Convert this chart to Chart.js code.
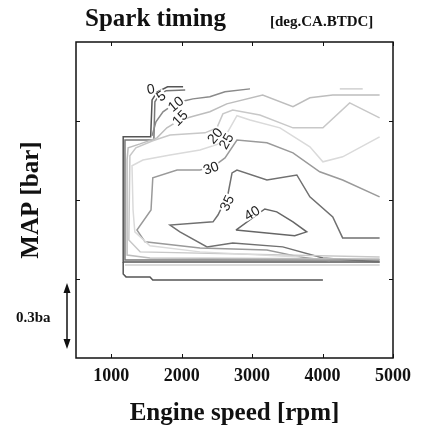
<!DOCTYPE html>
<html>
<head>
<meta charset="utf-8">
<script src="https://cdn.jsdelivr.net/npm/chart.js@4.4.0/dist/chart.umd.min.js"></script>
<style>
  html, body { margin: 0; padding: 0; background: #fff; }
</style>
</head>
<body>
<canvas id="sparkMap" width="423" height="432"></canvas>
<script>
// Spark advance map: iso-lines of ignition advance over engine speed / MAP
var speedTicks = [1000, 2000, 3000, 4000, 5000];
var mapTicks = [0.3, 0.6, 0.9];

// iso-advance lines, rpm and MAP [bar]
var adv0Rpm = [2020, 1800, 1650, 1580, 1560, 1170, 1170, 4810];
var adv0Map = [1.03, 1.03, 1.01, 0.98, 0.84, 0.84, 0.365, 0.365];

var adv5Rpm = [2050, 1780, 1680, 1620, 1605, 1195, 1195, 4810];
var adv5Map = [1.018, 1.015, 0.999, 0.973, 0.828, 0.828, 0.372, 0.372];

var adv10Rpm = [1580, 1635, 1735, 1860, 2045, 2160, 2400, 2615, 2970];
var adv10Map = [0.844, 0.897, 0.935, 0.958, 0.977, 0.984, 0.992, 1.011, 1.022];

var adv10bRpm = [4245, 4570];
var adv10bMap = [1.022, 1.022];

var adv15Rpm = [4810, 4145, 3820, 3580, 3150, 2640, 2400, 2190, 1975, 1790, 1650, 1410, 1240, 1225, 1225, 1550, 4810];
var adv15Map = [0.999, 0.999, 0.988, 0.954, 0.999, 0.965, 0.935, 0.920, 0.904, 0.874, 0.836, 0.813, 0.798, 0.752, 0.391, 0.380, 0.376];

var adv20Rpm = [4810, 4385, 4005, 3580, 3110, 2725, 2585, 2500, 2330, 1835, 1590, 1350, 1265, 1250, 1410, 4810];
var adv20Map = [0.912, 0.969, 0.874, 0.874, 0.923, 0.942, 0.927, 0.874, 0.855, 0.847, 0.825, 0.798, 0.768, 0.448, 0.403, 0.384];

var adv25Rpm = [4810, 4285, 4005, 3820, 3395, 2970, 2785, 2655, 2570, 2260, 1835, 1450, 1295, 1310, 1335, 1550, 2260, 3675];
var adv25Map = [0.840, 0.764, 0.745, 0.802, 0.874, 0.904, 0.920, 0.859, 0.817, 0.790, 0.771, 0.752, 0.730, 0.562, 0.479, 0.426, 0.403, 0.384];

var adv30Rpm = [4810, 4285, 3960, 3580, 3210, 2785, 2615, 2445, 2260, 1935, 1590, 1565, 1365, 1480, 2260, 3210, 3675, 4105];
var adv30Map = [0.612, 0.676, 0.707, 0.779, 0.817, 0.828, 0.760, 0.726, 0.714, 0.714, 0.684, 0.562, 0.486, 0.441, 0.418, 0.410, 0.384, 0.369];

var adv35Rpm = [4810, 4285, 4145, 3820, 3635, 3210, 2785, 2715, 2655, 2515, 2445, 1835, 1975, 2360, 2725, 3435, 4005, 4810];
var adv35Map = [0.456, 0.456, 0.536, 0.612, 0.695, 0.676, 0.714, 0.703, 0.619, 0.543, 0.517, 0.505, 0.479, 0.422, 0.437, 0.422, 0.380, 0.365];

var adv40Rpm = [2770, 3180, 3350, 3580, 3775, 3605, 2770];
var adv40Map = [0.486, 0.566, 0.555, 0.517, 0.479, 0.464, 0.486];

// low-load limit and idle line
var lowLoadRpm = [1195, 4810];
var lowLoadMap = [0.353, 0.353];
var idleRpm = [1170, 1170, 1210, 1550, 1590, 4005];
var idleMap = [0.365, 0.319, 0.308, 0.308, 0.296, 0.296];

// inline labels on the iso-lines
var labelText = ['0', '5', '10', '15', '20', '25', '30', '35', '40'];
var labelRpm = [1560, 1705, 1915, 1975, 2470, 2630, 2415, 2640, 2995];
var labelMap = [1.022, 0.996, 0.965, 0.912, 0.844, 0.824, 0.722, 0.589, 0.551];
var labelAngle = [-10, -35, -40, -45, -50, -60, -20, -65, -30];

function pts(rpm, map) {
  return rpm.map(function (r, i) { return { x: r, y: map[i] }; });
}

function line(rpm, map, color) {
  return {
    data: pts(rpm, map),
    showLine: true,
    borderColor: color,
    borderWidth: 1.5,
    pointRadius: 0,
    tension: 0,
    fill: false
  };
}

var datasets = [
  line(lowLoadRpm, lowLoadMap, '#cfcfcf'),
  line(adv25Rpm, adv25Map, '#dadada'),
  line(adv20Rpm, adv20Map, '#c8c8c8'),
  line(adv15Rpm, adv15Map, '#bdbdbd'),
  line(adv10bRpm, adv10bMap, '#d0d0d0'),
  line(adv30Rpm, adv30Map, '#9a9a9a'),
  line(adv10Rpm, adv10Map, '#8a8a8a'),
  line(adv5Rpm, adv5Map, '#777'),
  line(adv35Rpm, adv35Map, '#707070'),
  line(adv40Rpm, adv40Map, '#666'),
  line(adv0Rpm, adv0Map, '#555'),
  line(idleRpm, idleMap, '#555')
];

var serif = 'Liberation Serif';

// frame, inward ticks, contour labels and header texts
var decorations = {
  id: 'decorations',
  afterDraw: function (chart) {
    var ctx = chart.ctx;
    var a = chart.chartArea;
    var xs = chart.scales.x;
    var ys = chart.scales.y;

    // contour labels
    ctx.save();
    ctx.font = '14px "Liberation Sans"';
    ctx.textAlign = 'center';
    ctx.textBaseline = 'middle';
    labelText.forEach(function (t, i) {
      var px = xs.getPixelForValue(labelRpm[i]);
      var py = ys.getPixelForValue(labelMap[i]);
      var w = ctx.measureText(t).width;
      ctx.save();
      ctx.translate(px, py);
      ctx.rotate(labelAngle[i] * Math.PI / 180);
      ctx.fillStyle = '#fff';
      ctx.fillRect(-w / 2 - 1, -5, w + 2, 10);
      ctx.fillStyle = '#222';
      ctx.fillText(t, 0, 1);
      ctx.restore();
    });
    ctx.restore();

    // plot frame
    ctx.save();
    ctx.strokeStyle = '#111';
    ctx.lineWidth = 1.5;
    ctx.strokeRect(a.left, a.top, a.right - a.left, a.bottom - a.top);
    ctx.lineWidth = 1;
    ctx.beginPath();
    speedTicks.forEach(function (v) {
      var px = Math.round(xs.getPixelForValue(v)) + 0.5;
      ctx.moveTo(px, a.bottom); ctx.lineTo(px, a.bottom - 4);
      ctx.moveTo(px, a.top); ctx.lineTo(px, a.top + 4);
    });
    mapTicks.forEach(function (v) {
      var py = Math.round(ys.getPixelForValue(v)) + 0.5;
      ctx.moveTo(a.left, py); ctx.lineTo(a.left + 4, py);
      ctx.moveTo(a.right, py); ctx.lineTo(a.right - 4, py);
    });
    ctx.stroke();
    ctx.restore();

    // header
    ctx.save();
    ctx.fillStyle = '#111';
    ctx.textBaseline = 'alphabetic';
    ctx.textAlign = 'left';
    ctx.font = 'bold 25px "' + serif + '"';
    ctx.fillText('Spark timing', 85, 26);
    ctx.font = 'bold 15px "' + serif + '"';
    ctx.fillText('[deg.CA.BTDC]', 270, 26);

    // pressure scale arrow
    var ax = 67, top = a.bottom - 75, bot = a.bottom - 9;
    ctx.strokeStyle = '#111';
    ctx.lineWidth = 1.5;
    ctx.beginPath();
    ctx.moveTo(ax, top + 6); ctx.lineTo(ax, bot - 6);
    ctx.stroke();
    ctx.beginPath();
    ctx.moveTo(ax, top); ctx.lineTo(ax - 3.5, top + 10); ctx.lineTo(ax + 3.5, top + 10); ctx.closePath();
    ctx.moveTo(ax, bot); ctx.lineTo(ax - 3.5, bot - 10); ctx.lineTo(ax + 3.5, bot - 10); ctx.closePath();
    ctx.fill();
    ctx.font = 'bold 15px "' + serif + '"';
    ctx.fillText('0.3ba', 16, 322);
    ctx.restore();
  }
};

new Chart(document.getElementById('sparkMap').getContext('2d'), {
  type: 'scatter',
  data: { datasets: datasets },
  options: {
    responsive: false,
    animation: false,
    devicePixelRatio: 1,
    layout: { padding: { top: 42, right: 30, bottom: 0, left: 0 } },
    plugins: { legend: { display: false }, tooltip: { enabled: false } },
    scales: {
      x: {
        type: 'linear',
        min: 500,
        max: 5000,
        afterBuildTicks: function (s) { s.ticks = speedTicks.map(function (v) { return { value: v }; }); },
        afterFit: function (s) { s.height = 74; },
        grid: { display: false, drawTicks: false },
        border: { display: false },
        ticks: {
          color: '#111',
          padding: 8,
          maxRotation: 0,
          autoSkip: false,
          font: { family: serif, weight: 'bold', size: 18 },
          callback: function (v) { return String(v); }
        },
        title: {
          display: true,
          text: 'Engine speed [rpm]',
          color: '#111',
          font: { family: serif, weight: 'bold', size: 25 },
          padding: { top: 0, bottom: 3 }
        }
      },
      y: {
        type: 'linear',
        min: 0,
        max: 1.2,
        afterBuildTicks: function (s) { s.ticks = mapTicks.map(function (v) { return { value: v }; }); },
        afterFit: function (s) { s.width = 76; },
        grid: { display: false, drawTicks: false },
        border: { display: false },
        ticks: { display: false },
        title: {
          display: true,
          text: 'MAP [bar]',
          color: '#111',
          font: { family: serif, weight: 'bold', size: 25 },
          padding: { top: 17, bottom: 0 }
        }
      }
    }
  },
  plugins: [decorations]
});
</script>
</body>
</html>
